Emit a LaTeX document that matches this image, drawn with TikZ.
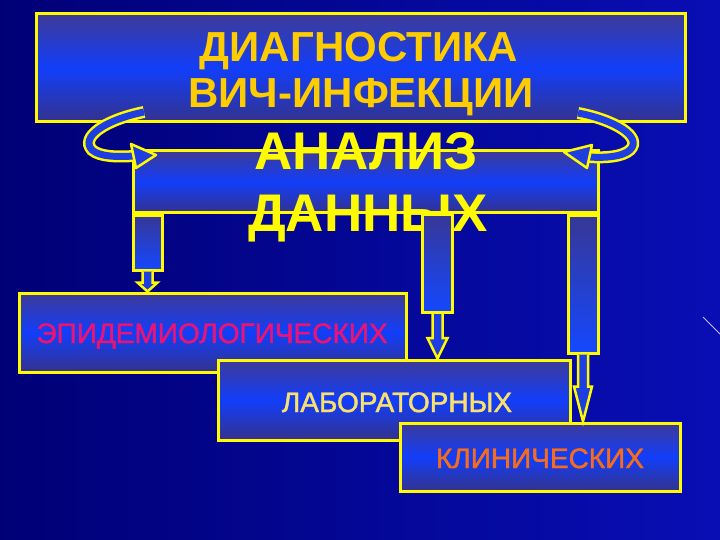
\documentclass[tikz,border=0pt]{standalone}
\usepackage{fontspec}
\setmainfont{Liberation Sans}
\newfontfamily\medsans[FakeBold=1.6]{Liberation Sans}
\usetikzlibrary{calc}
\definecolor{bgL}{RGB}{0,0,118}
\definecolor{bgR}{RGB}{8,14,180}
\definecolor{yel}{RGB}{255,250,0}
\definecolor{gold}{RGB}{255,204,0}
\definecolor{boxtop}{RGB}{62,58,150}
\definecolor{boxmid}{RGB}{18,62,250}
\definecolor{boxbot}{RGB}{52,50,140}
\definecolor{coltop}{RGB}{55,55,150}
\definecolor{colbot}{RGB}{20,72,255}
\definecolor{ribblue}{RGB}{30,62,225}
\definecolor{epidtxt}{RGB}{232,20,118}
\definecolor{labtxt}{RGB}{250,225,110}
\definecolor{clintxt}{RGB}{245,108,30}
\definecolor{streak}{RGB}{205,185,255}
\tikzset{
  box/.style={draw=yel, line width=3pt, top color=boxtop, bottom color=boxbot, middle color=boxmid, inner sep=0pt},
  colbox/.style={draw=yel, line width=3pt, top color=coltop, bottom color=colbot, inner sep=0pt},
  stemst/.style={draw=yel, line width=2.5pt, fill=ribblue, line join=miter},
  ribbon/.style={draw=yel, line width=2.5pt, double=ribblue, double distance=7pt},
  rhead/.style={draw=yel, line width=2.5pt, fill=ribblue, line join=round},
  bigtxt/.style={font=\bfseries\fontsize{42}{42}\selectfont, text=gold, inner sep=0pt, anchor=base},
  hugetxt/.style={font=\bfseries\fontsize{53}{53}\selectfont, text=yel, inner sep=0pt, anchor=base},
  smalltxt/.style={font=\medsans\fontsize{28}{28}\selectfont, inner sep=0pt, anchor=base}
}
\begin{document}
\begin{tikzpicture}[x=1pt,y=-1pt]
\useasboundingbox (0,0) rectangle (720,540);
\shade[left color=bgL, right color=bgR] (0,0) rectangle (720,540);
\draw[streak, line width=1pt] (703,317) -- (720,334);

% top box
\node[box, minimum width=649pt, minimum height=108pt] (diag) at (360.5,68) {};
\node[bigtxt] (d1) at (359,62) {ДИАГНОСТИКА};
\node[bigtxt] (d2) at (361,108) {ВИЧ-ИНФЕКЦИИ};

% analysis box
\node[box, minimum width=465pt, minimum height=62pt] (ana) at (365.5,182) {};
\node[hugetxt] (a1) at (366,170) {АНАЛИЗ};
\node[hugetxt] (a2) at (368,232) {ДАННЫХ};

% columns
\node[colbox, minimum width=29pt, minimum height=54pt, anchor=north west] (c1) at (ana.south west) {};
\node[colbox, minimum width=30pt, minimum height=98pt, anchor=north west] (c2) at (421,213) {};
\node[colbox, minimum width=30pt, minimum height=137pt, anchor=north east] (c3) at (ana.south east) {};

% bottom boxes
\node[box, minimum width=387pt, minimum height=79pt] (epid) at (212.5,332.5) {};
\node[smalltxt, text=epidtxt] (e1) at (212,343) {ЭПИДЕМИОЛОГИЧЕСКИХ};
\node[box, minimum width=352pt, minimum height=80pt] (lab) at (394,400) {};
\node[smalltxt, text=labtxt] (l1) at (397,412) {ЛАБОРАТОРНЫХ};
\node[box, minimum width=280pt, minimum height=68pt] (clin) at (540,457) {};
\node[smalltxt, text=clintxt] (k1) at (540,468) {КЛИНИЧЕСКИХ};

% stems and heads
\draw[stemst] ($(c1.south)+(-5,0)$) -- ($(c1.south)+(-5,11)$) -- ($(c1.south)+(-10,11)$)
  -- (c1.south |- epid.north) -- ($(c1.south)+(10,11)$) -- ($(c1.south)+(5,11)$) -- ($(c1.south)+(5,0)$);
\draw[stemst] ($(c2.south)+(-5,0)$) -- ($(c2.south)+(-5,24)$) -- ($(c2.south)+(-10,24)$)
  -- (c2.south |- lab.north) -- ($(c2.south)+(10,24)$) -- ($(c2.south)+(5,24)$) -- ($(c2.south)+(5,0)$);
\draw[stemst] ($(c3.south)+(-5,0)$) -- ($(c3.south)+(-5,32)$) -- ($(c3.south)+(-9,32)$)
  -- (c3.south |- clin.north) -- ($(c3.south)+(9,32)$) -- ($(c3.south)+(5,32)$) -- ($(c3.south)+(5,0)$);

% curved arrows
\coordinate (lt) at (144,112);
\coordinate (lh) at (134,156);
\coordinate (rt) at (578,113);
\coordinate (rh) at (589,157);
\draw[ribbon] (lt) .. controls (105,120) and (80,137) .. (92,150) .. controls (100,157) and (118,157) .. (lh);
\draw[rhead] (131,144) -- (156,155) -- (136,168) -- cycle;
\draw[ribbon] (rt) .. controls (615,120) and (643,137) .. (630,150) .. controls (622,157) and (605,158) .. (rh);
\draw[rhead] (592,145) -- (564,152) -- (587,168) -- cycle;
\end{tikzpicture}
\end{document}
